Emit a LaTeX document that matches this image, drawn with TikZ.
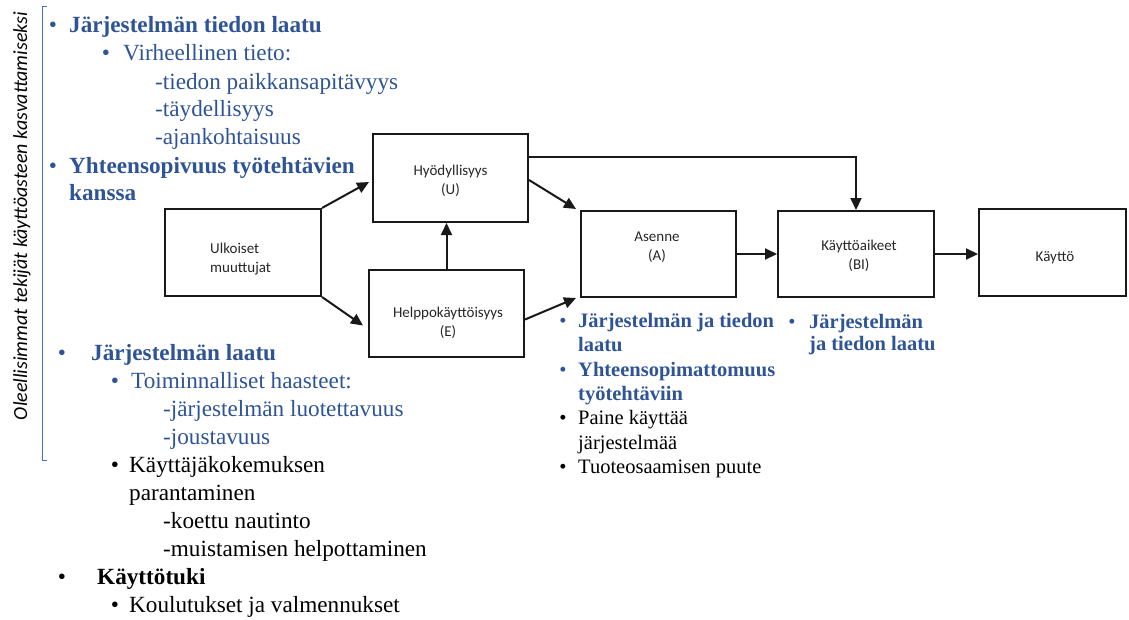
\documentclass[tikz,border=0pt]{standalone}
\usepackage{fontspec}
\setmainfont{Liberation Serif}
\newfontfamily\carlito{Carlito}
\usetikzlibrary{arrows.meta}
\definecolor{tblue}{RGB}{47,84,150}
\definecolor{lblue}{RGB}{68,114,196}
\newcommand\szL{\fontsize{23.2}{27}\selectfont}
\newcommand\szM{\fontsize{20.5}{24}\selectfont}
\newcommand\szB{\carlito\fontsize{15}{19}\selectfont}

\begin{document}
\begin{tikzpicture}[x=1pt,y=-1pt,
  box/.style={draw=black!90, line width=2pt, inner sep=0pt},
  lbl/.style={font=\szB, align=center, inner sep=0pt, text=black!85},
  conn/.style={draw=black!90, line width=2pt, -{Triangle[length=12pt,width=11pt]}},
  tl/.style={anchor=base west, inner sep=0pt, font=\szL},
  dot/.style={anchor=base, inner sep=0pt, font=\szL},
  tm/.style={anchor=base west, inner sep=0pt, font=\szM},
  dm/.style={anchor=base, inner sep=0pt, font=\szM},
]
\useasboundingbox (0,0) rectangle (1129,619);

% side caption with its bracket
\node[rotate=90, inner sep=0pt, font=\carlito\itshape\fontsize{20}{24}\selectfont] (side) at (22,216)
  {Oleellisimmat tekijät käyttöasteen kasvattamiseksi};
\coordinate (brT) at (47,6);
\coordinate (brB) at (47,460);
\draw[lblue, line width=1pt] (brT) -- ++(-5,0) |- (brB);

% model boxes
\node[box, minimum width=156pt, minimum height=87pt] (ulk)  at (243,252.5) {};
\node[box, minimum width=155pt, minimum height=88pt] (hyod) at (450.5,178) {};
\node[box, minimum width=155pt, minimum height=87pt] (help) at (446.5,313.5) {};
\node[box, minimum width=155pt, minimum height=86pt] (asen) at (658.5,254) {};
\node[box, minimum width=156pt, minimum height=86pt] (aik)  at (856,254) {};
\node[box, minimum width=147pt, minimum height=87pt] (kay)  at (1052.5,252.5) {};

\node[lbl, anchor=west, align=left] (ulkT) at (210,259) {Ulkoiset\\muuttujat};
\node[lbl] (hyodT) at (450.5,180.5) {Hyödyllisyys\\(U)};
\node[lbl] (helpT) at (448,322.5) {Helppokäyttöisyys\\(E)};
\node[lbl] (asenT) at (657,247.5) {Asenne\\(A)};
\node[lbl] (aikT)  at (859,255.5) {Käyttöaikeet\\(BI)};
\node[lbl] (kayT)  at (1055,258) {Käyttö};

% connectors
\draw[conn] (ulk.north east) -- ([shift={(-3,4)}]hyod.west);
\draw[conn] (ulk.south east) -- ([shift={(-5,12)}]help.west);
\draw[conn] (help.north) -- (help.north |- hyod.south);
\draw[conn] ([shift={(0,2)}]hyod.east) -- ([shift={(-4,-1)}]asen.north west);
\draw[conn] ([shift={(0,6)}]help.east) -- ([shift={(-4,0)}]asen.south west);
\draw[conn] ([shift={(0,-21)}]hyod.east) -| (aik.north);
\draw[conn] (asen.east) -- (aik.west);
\draw[conn] (aik.east) -- (aik.east -| kay.west);

% upper list
\node[dot, text=tblue] (b1) at (53,32) {•};
\node[tl, text=tblue, font=\szL\bfseries] (t1) at (69,32) {Järjestelmän tiedon laatu};
\node[dot, text=tblue] (b2) at (106,60) {•};
\node[tl, text=tblue] (t2) at (123,60) {Virheellinen tieto:};
\node[tl, text=tblue] (t3) at (155,89) {-tiedon paikkansapitävyys};
\node[tl, text=tblue] (t4) at (155,116) {-täydellisyys};
\node[tl, text=tblue] (t5) at (155,144) {-ajankohtaisuus};
\node[dot, text=tblue] (b6) at (53,173) {•};
\node[tl, text=tblue, font=\szL\bfseries] (t6) at (69,173) {Yhteensopivuus työtehtävien};
\node[tl, text=tblue, font=\szL\bfseries] (t7) at (69,200) {kanssa};

% lower list
\node[dot, text=tblue] (b8) at (62,360) {•};
\node[tl, text=tblue, font=\szL\bfseries] (t8) at (91,360) {Järjestelmän laatu};
\node[dot, text=tblue] (b9) at (115,388) {•};
\node[tl, text=tblue] (t9) at (131,388) {Toiminnalliset haasteet:};
\node[tl, text=tblue] (t10) at (163,416) {-järjestelmän luotettavuus};
\node[tl, text=tblue] (t11) at (163,444) {-joustavuus};
\node[dot] (b12) at (115,472) {•};
\node[tl] (t12) at (129,472) {Käyttäjäkokemuksen};
\node[tl] (t13) at (129,500) {parantaminen};
\node[tl] (t14) at (163,528) {-koettu nautinto};
\node[tl] (t15) at (163,556) {-muistamisen helpottaminen};
\node[dot] (b16) at (62,584) {•};
\node[tl, font=\szL\bfseries] (t16) at (97,584) {Käyttötuki};
\node[dot] (b17) at (115,612) {•};
\node[tl] (t17) at (129,612) {Koulutukset ja valmennukset};

% notes under Asenne
\node[dm, text=tblue] (rb1) at (563,327.5) {•};
\node[tm, text=tblue, font=\szM\bfseries] (r1) at (578,327.5) {Järjestelmän ja tiedon};
\node[tm, text=tblue, font=\szM\bfseries] (r2) at (578,351.5) {laatu};
\node[dm, text=tblue] (rb3) at (563,376.5) {•};
\node[tm, text=tblue, font=\szM\bfseries] (r3) at (578,376.5) {Yhteensopimattomuus};
\node[tm, text=tblue, font=\szM\bfseries] (r4) at (578,400.5) {työtehtäviin};
\node[dm] (rb5) at (563,424.5) {•};
\node[tm] (r5) at (578,424.5) {Paine käyttää};
\node[tm] (r6) at (578,449) {järjestelmää};
\node[dm] (rb7) at (563,473.5) {•};
\node[tm] (r7) at (578,473.5) {Tuoteosaamisen puute};

% notes under Käyttöaikeet
\node[dm, text=tblue] (sb1) at (792,328.5) {•};
\node[tm, text=tblue, font=\szM\bfseries] (s1) at (809,328.5) {Järjestelmän};
\node[tm, text=tblue, font=\szM\bfseries] (s2) at (809,350) {ja tiedon laatu};
\end{tikzpicture}
\end{document}
